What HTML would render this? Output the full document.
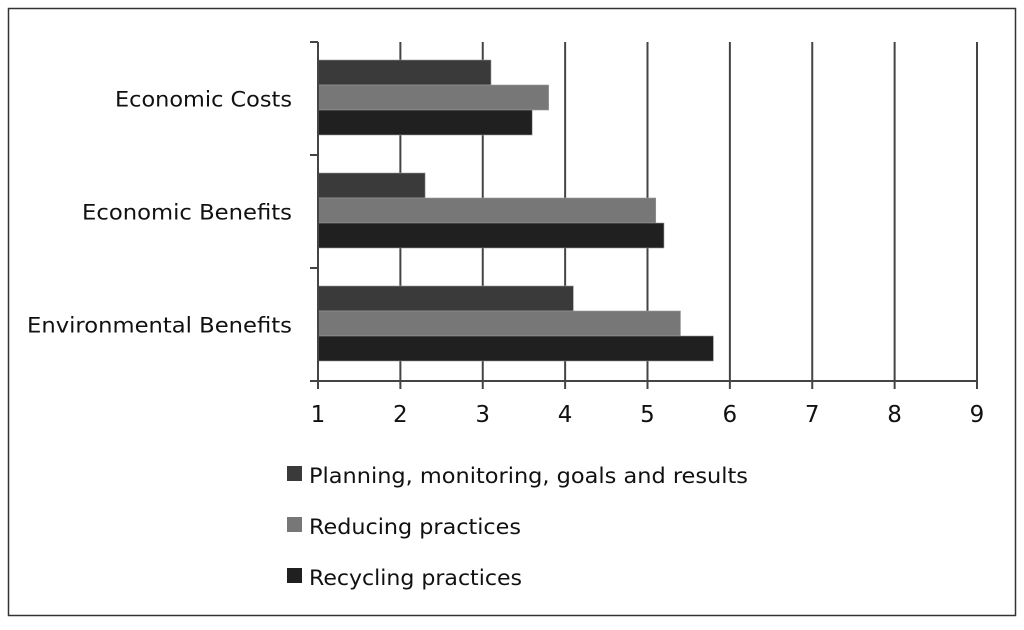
<!DOCTYPE html>
<html><head><meta charset="utf-8"><style>
body{margin:0;background:#fff;}
svg text{font-family:"DejaVu Sans","Liberation Sans",sans-serif;fill:#111;}
</style></head><body>
<svg id="c" width="1024" height="625" xmlns="http://www.w3.org/2000/svg">
<rect x="8.5" y="8.5" width="1007" height="607" fill="#fff" stroke="#333" stroke-width="1.5"/>
<g id="grid"></g><g id="bars"></g><g id="axes"></g><g id="legend"></g>
</svg>
<script>
const categories=["Economic Costs","Economic Benefits","Environmental Benefits"];
const seriesNames=["Planning, monitoring, goals and results","Reducing practices","Recycling practices"];
const planning=[3.1,2.3,4.1];
const reducing=[3.8,5.1,5.4];
const recycling=[3.6,5.2,5.8];
const xTicks=[1,2,3,4,5,6,7,8,9];
const colors=["#3a3a3a","#777777","#202020"];
const catWidths=[177,210,265];
const legWidths=[439,212,213];
const NS="http://www.w3.org/2000/svg";
const x0=318,x1=977,yTop=42,yBot=381;
const xs=v=>x0+(v-1)/(9-1)*(x1-x0);
const band=(yBot-yTop)/categories.length;
function mk(t,a,p){const e=document.createElementNS(NS,t);for(const k in a)e.setAttribute(k,a[k]);p.appendChild(e);return e;}
const G=document.getElementById('grid'),B=document.getElementById('bars'),A=document.getElementById('axes'),L=document.getElementById('legend');
xTicks.forEach(t=>{
  if(t>1){const l=mk('line',{x1:xs(t),x2:xs(t),y1:yTop,y2:yBot,stroke:'#444','stroke-width':2},G);
  
  }
  const tk=mk('line',{x1:xs(t),x2:xs(t),y1:yBot,y2:yBot+8,stroke:'#444','stroke-width':2},A);
  
  
  const tx=mk('text',{x:xs(t),y:422,'text-anchor':'middle','font-size':23},A);tx.textContent=t;
  
  
});
const series=[planning,reducing,recycling];
categories.forEach((c,i)=>{
  const by=yTop+i*band;
  series.forEach((s,j)=>{
    const r=mk('rect',{x:x0,y:by+18+j*25,width:xs(s[i])-x0,height:25,fill:colors[j],stroke:'#999','stroke-width':0.6},B);
    
    
  });
  const tx=mk('text',{x:292-catWidths[i],y:by+band/2+8,'font-size':21,textLength:catWidths[i],lengthAdjust:'spacingAndGlyphs'},A);tx.textContent=c;
  
  
});
for(let i=0;i<=categories.length;i++){
  const y=yTop+i*band;
  const t=mk('line',{x1:310,x2:x0,y1:y,y2:y,stroke:'#444','stroke-width':2},A);
  
  
}
const ya=mk('line',{x1:x0,x2:x0,y1:yTop,y2:yBot+8,stroke:'#444','stroke-width':2},A);


const xa=mk('line',{x1:310,x2:x1,y1:yBot,y2:yBot,stroke:'#444','stroke-width':2},A);


seriesNames.forEach((n,j)=>{
  const y=476+j*51;
  const r=mk('rect',{x:287,y:y-10,width:15,height:15,fill:colors[j]},L);
  
  
  const t=mk('text',{x:309,y:y+7,'font-size':21,textLength:legWidths[j],lengthAdjust:'spacingAndGlyphs'},L);t.textContent=n;
  
  
});
</script>
</body></html>
